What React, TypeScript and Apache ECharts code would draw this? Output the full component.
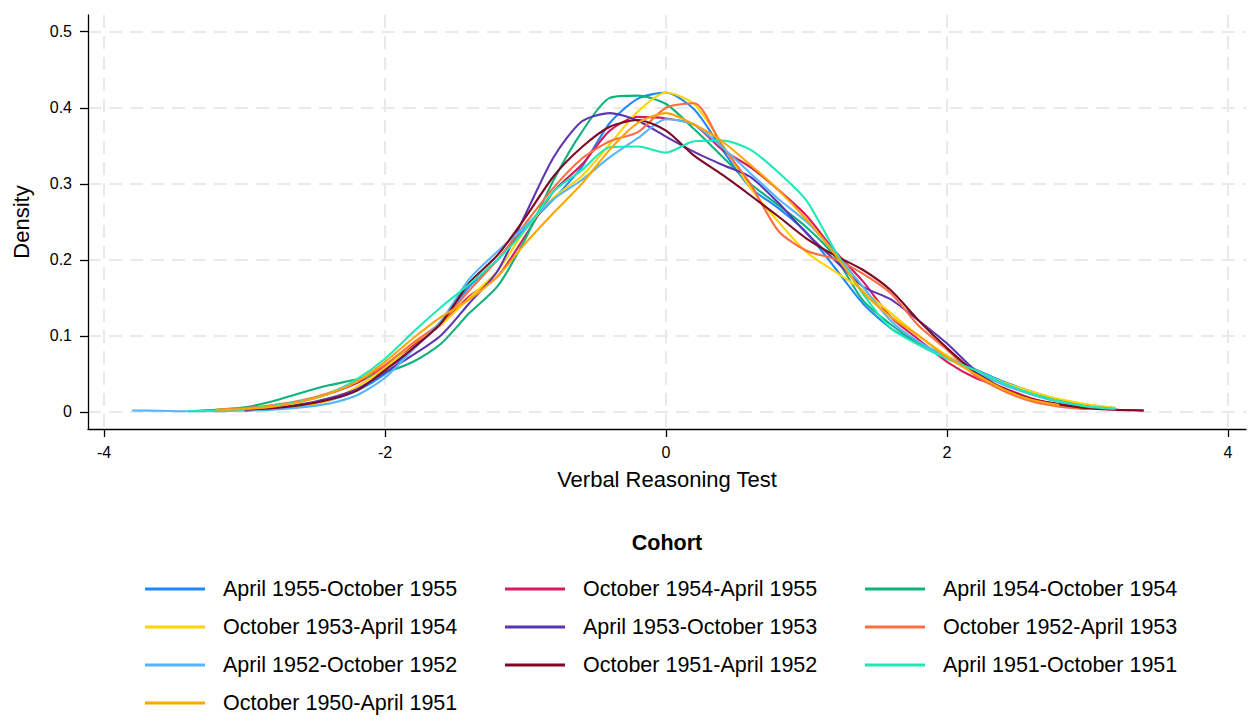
import React, { useEffect, useRef } from "react";
import * as echarts from "echarts";

// shared grid of test scores (x)
const X_GRID = [
  -3.8, -3.6, -3.4, -3.2, -3.0, -2.8, -2.6, -2.4, -2.2, -2.0, -1.8, -1.6, -1.4,
  -1.2, -1.0, -0.8, -0.6, -0.4, -0.2, 0, 0.2, 0.4, 0.6, 0.8, 1.0, 1.2, 1.4, 1.6,
  1.8, 2.0, 2.2, 2.4, 2.6, 2.8, 3.0, 3.2, 3.4,
];

const COHORTS = [
  "April 1955-October 1955",
  "October 1954-April 1955",
  "April 1954-October 1954",
  "October 1953-April 1954",
  "April 1953-October 1953",
  "October 1952-April 1953",
  "April 1952-October 1952",
  "October 1951-April 1952",
  "April 1951-October 1951",
  "October 1950-April 1951",
];

const COLORS = [
  "#1e88ff",
  "#d81b60",
  "#0db27c",
  "#ffd400",
  "#5e35b1",
  "#ff6e40",
  "#55b6ff",
  "#7d0a22",
  "#1de9b6",
  "#ffa500",
];

const D_A55 = [null, null, null, null, 0.002, 0.004, 0.008, 0.015, 0.028, 0.05, 0.083, 0.118, 0.165, 0.2, 0.242, 0.28, 0.322, 0.38, 0.412, 0.42, 0.398, 0.345, 0.295, 0.268, 0.236, 0.19, 0.143, 0.11, 0.09, 0.073, 0.056, 0.04, 0.027, 0.016, 0.009, 0.005, null];
const D_O54 = [null, null, null, 0.002, 0.004, 0.008, 0.014, 0.024, 0.038, 0.06, 0.088, 0.115, 0.152, 0.178, 0.232, 0.29, 0.325, 0.37, 0.388, 0.386, 0.378, 0.345, 0.322, 0.292, 0.258, 0.212, 0.172, 0.125, 0.095, 0.066, 0.045, 0.032, 0.018, 0.01, 0.005, 0.003, 0.002];
const D_A54 = [null, null, 0.001, 0.003, 0.006, 0.014, 0.025, 0.035, 0.043, 0.052, 0.066, 0.09, 0.13, 0.165, 0.228, 0.305, 0.368, 0.413, 0.416, 0.405, 0.372, 0.336, 0.3, 0.272, 0.243, 0.205, 0.147, 0.115, 0.09, 0.072, 0.053, 0.036, 0.024, 0.014, 0.008, 0.004, null];
const D_O53 = [null, null, null, null, null, 0.004, 0.007, 0.015, 0.033, 0.058, 0.09, 0.115, 0.15, 0.185, 0.24, 0.282, 0.31, 0.352, 0.395, 0.42, 0.405, 0.352, 0.295, 0.25, 0.21, 0.185, 0.16, 0.13, 0.1, 0.074, 0.055, 0.039, 0.027, 0.017, 0.01, 0.005, null];
const D_A53 = [null, null, null, null, 0.002, 0.005, 0.01, 0.018, 0.03, 0.052, 0.075, 0.101, 0.143, 0.185, 0.26, 0.335, 0.382, 0.393, 0.383, 0.362, 0.342, 0.325, 0.309, 0.275, 0.235, 0.2, 0.165, 0.148, 0.12, 0.09, 0.055, 0.03, 0.015, 0.008, 0.004, null, null];
const D_O52 = [null, null, null, 0.003, 0.005, 0.009, 0.015, 0.025, 0.04, 0.062, 0.091, 0.118, 0.16, 0.2, 0.248, 0.295, 0.333, 0.356, 0.368, 0.4, 0.406, 0.35, 0.3, 0.238, 0.212, 0.201, 0.182, 0.156, 0.113, 0.082, 0.048, 0.028, 0.014, 0.007, 0.004, null, null];
const D_A52 = [0.002, 0.0015, 0.001, 0.001, 0.002, 0.003, 0.006, 0.011, 0.022, 0.045, 0.082, 0.12, 0.175, 0.211, 0.245, 0.28, 0.305, 0.335, 0.36, 0.385, 0.378, 0.348, 0.314, 0.28, 0.25, 0.21, 0.165, 0.12, 0.092, 0.072, 0.054, 0.036, 0.023, 0.013, 0.007, 0.004, null];
const D_O51 = [null, null, null, null, 0.003, 0.005, 0.009, 0.016, 0.028, 0.055, 0.084, 0.117, 0.17, 0.206, 0.256, 0.31, 0.348, 0.375, 0.384, 0.37, 0.337, 0.312, 0.285, 0.257, 0.228, 0.206, 0.187, 0.16, 0.12, 0.084, 0.052, 0.031, 0.017, 0.01, 0.005, 0.003, 0.002];
const D_A51 = [null, null, 0.001, 0.002, 0.004, 0.008, 0.014, 0.024, 0.043, 0.07, 0.105, 0.138, 0.168, 0.2, 0.24, 0.29, 0.318, 0.348, 0.349, 0.341, 0.356, 0.357, 0.345, 0.315, 0.278, 0.213, 0.156, 0.11, 0.088, 0.07, 0.055, 0.038, 0.024, 0.014, 0.007, 0.004, null];
const D_O50 = [null, null, null, 0.003, 0.004, 0.007, 0.013, 0.024, 0.04, 0.066, 0.097, 0.125, 0.148, 0.178, 0.222, 0.262, 0.3, 0.345, 0.38, 0.393, 0.378, 0.356, 0.325, 0.292, 0.253, 0.208, 0.158, 0.125, 0.1, 0.072, 0.05, 0.03, 0.016, 0.009, null, null, null];

const DENSITIES = [D_A55, D_O54, D_A54, D_O53, D_A53, D_O52, D_A52, D_O51, D_A51, D_O50];

const X_TICKS = [-4, -2, 0, 2, 4];
const Y_TICKS = [0, 0.1, 0.2, 0.3, 0.4, 0.5];

const LEGEND_COLUMNS = [
  [0, 3, 6, 9],
  [1, 4, 7],
  [2, 5, 8],
];

const FONT = '"Liberation Sans", Arial, Helvetica, sans-serif';

export default function App() {
  const ref = useRef<HTMLDivElement>(null);

  useEffect(() => {
    if (!ref.current) return;
    const chart = echarts.init(ref.current, undefined, { renderer: "svg" });

    const series = COHORTS.map((name, i) => ({
      name,
      type: "line",
      data: X_GRID.map((x, j) => [x, DENSITIES[i][j]]),
      showSymbol: false,
      symbol: "none",
      smooth: 0.25,
      connectNulls: false,
      lineStyle: { width: 2.1, color: COLORS[i] },
      itemStyle: { color: COLORS[i] },
      emphasis: { disabled: true },
      z: 3,
    }));

    const legendLefts = [145, 505, 865];
    const legends = LEGEND_COLUMNS.map((col, k) => ({
      orient: "vertical",
      left: legendLefts[k],
      top: 577,
      padding: 0,
      icon: "rect",
      itemWidth: 60,
      itemHeight: 3,
      itemGap: 14,
      selectedMode: false,
      data: col.map((i) => COHORTS[i]),
      textStyle: {
        fontSize: 21.5,
        fontFamily: FONT,
        color: "#000",
        lineHeight: 24,
        padding: [0, 0, 0, 13],
      },
    }));

    const gridLine = {
      show: true,
      lineStyle: { color: "#e9e9e9", width: 2, type: [13, 8] },
    };

    chart.setOption({
      animation: false,
      textStyle: { fontFamily: FONT },
      grid: { left: 88, right: 14, top: 15, bottom: 297, containLabel: false },
      xAxis: {
        type: "value",
        min: -4.114,
        max: 4.128,
        name: "Verbal Reasoning Test",
        nameLocation: "middle",
        nameGap: 39,
        nameTextStyle: { fontSize: 22, color: "#000", fontFamily: FONT },
        axisLine: { show: true, onZero: false, lineStyle: { color: "#000", width: 1.3 } },
        axisTick: { show: true, length: 8, customValues: X_TICKS, lineStyle: { color: "#000", width: 1.3 } },
        axisLabel: { customValues: X_TICKS, fontSize: 16, color: "#000", margin: 15, fontFamily: FONT },
        splitLine: gridLine,
      },
      yAxis: {
        type: "value",
        min: -0.0224,
        max: 0.522,
        name: "Density",
        nameLocation: "middle",
        nameGap: 56,
        nameRotate: 90,
        nameTextStyle: { fontSize: 22, color: "#000", fontFamily: FONT },
        axisLine: { show: true, onZero: false, lineStyle: { color: "#000", width: 1.3 } },
        axisTick: { show: true, length: 8, customValues: Y_TICKS, lineStyle: { color: "#000", width: 1.3 } },
        axisLabel: {
          customValues: Y_TICKS,
          fontSize: 16,
          color: "#000",
          margin: 16,
          fontFamily: FONT,
          formatter: (v: number) => (Math.abs(v) < 1e-9 ? "0" : String(Math.round(v * 10) / 10)),
        },
        splitLine: gridLine,
      },
      legend: legends,
      graphic: [
        {
          type: "text",
          x: 667,
          y: 543,
          style: {
            text: "Cohort",
            fontSize: 21.5,
            fontWeight: "bold",
            fontFamily: FONT,
            fill: "#000",
            align: "center",
            verticalAlign: "middle",
          },
        },
      ],
      series,
    });

    return () => chart.dispose();
  }, []);

  return (
    <div
      ref={ref}
      style={{ position: "fixed", left: 0, top: 0, width: 1260, height: 726, background: "#fff" }}
    />
  );
}
